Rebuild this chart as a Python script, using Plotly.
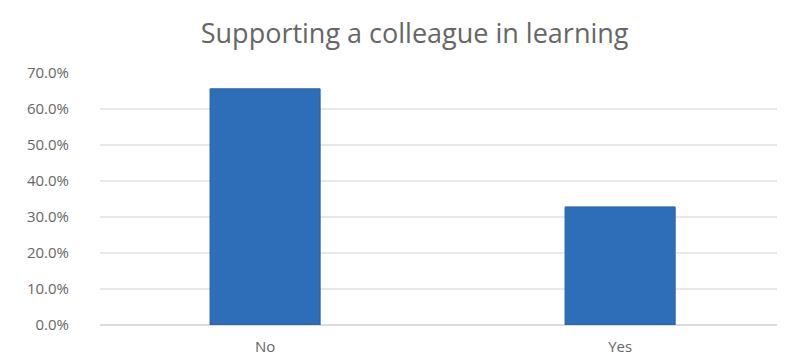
import plotly.graph_objects as go

categories = ["No", "Yes"]
values = [65.6, 32.8]
tick_vals = [0, 10, 20, 30, 40, 50, 60, 70]
tick_text = ["0.0%", "10.0%", "20.0%", "30.0%", "40.0%", "50.0%", "60.0%", "70.0%"]

fig = go.Figure(go.Bar(
    x=[0, 1], y=values, width=0.31,
    marker=dict(color="#2E6DB8", line=dict(color="#2a5fa0", width=1)),
))
fig.update_layout(
    width=785, height=358,
    margin=dict(l=92, r=0, t=65, b=41),
    paper_bgcolor="white", plot_bgcolor="white",
    title=dict(text="Supporting a colleague in learning", x=0.518, xanchor="center",
               y=0.93, yanchor="middle",
               font=dict(family="Open Sans, Arial", size=27, color="#666666")),
    showlegend=False,
    font=dict(family="Open Sans, Arial", size=15, color="#666666"),
)
fig.update_yaxes(range=[0, 70], tickvals=tick_vals, ticktext=tick_text,
                 showgrid=True, gridcolor="#e8e8e8", gridwidth=2,
                 zeroline=True, zerolinecolor="#dcdcdc", zerolinewidth=2,
                 ticks="", ticklen=0, ticklabelstandoff=30,
                 tickfont=dict(size=15, color="#666666"))
fig.update_xaxes(range=[-0.465, 1.487], tickvals=[0, 1], ticktext=categories,
                 showgrid=False, showline=False, zeroline=False, ticks="",
                 ticklabelstandoff=11,
                 tickfont=dict(size=15, color="#666666"))
fig.write_html("out.html")
